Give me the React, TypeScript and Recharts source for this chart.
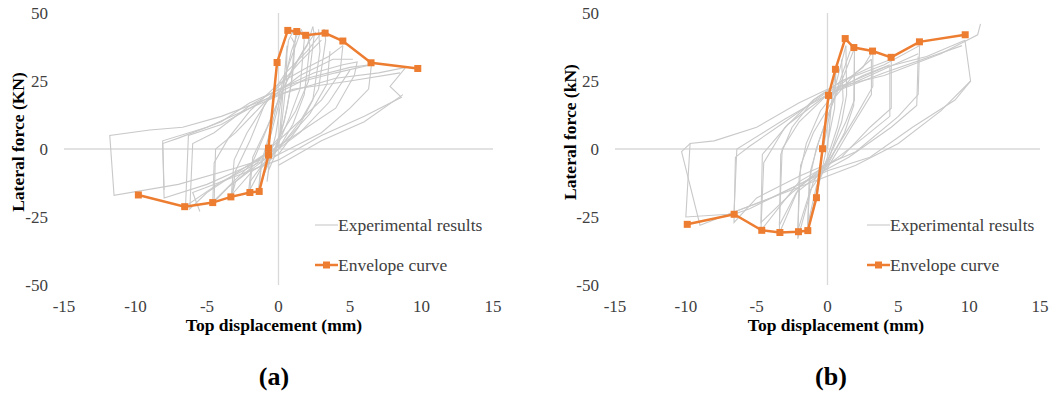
import { ReferenceLine, Scatter, ScatterChart, XAxis, YAxis } from 'recharts';

type Pt = [number, number];

const xTicks = [-15, -10, -5, 0, 5, 10, 15];
const yTicks = [-50, -25, 0, 25, 50];

// envelope (a)
const envelopeA: Pt[] = [
  [-9.8, -16.9], [-6.56, -21.2], [-4.6, -19.7], [-3.33, -17.6], [-2.0, -16.0],
  [-1.35, -15.6], [-0.7, -2.2], [-0.7, 0.3], [-0.1, 31.8], [0.65, 43.6],
  [1.28, 43.2], [1.9, 41.8], [3.26, 42.6], [4.5, 39.7], [6.47, 31.7], [9.74, 29.6],
];

// envelope (b)
const envelopeB: Pt[] = [
  [-9.9, -27.7], [-6.59, -24.0], [-4.64, -29.9], [-3.36, -30.7], [-2.05, -30.4],
  [-1.39, -30.0], [-0.78, -17.9], [-0.35, 0.1], [0.07, 19.7], [0.56, 29.3],
  [1.25, 40.6], [1.86, 37.3], [3.18, 36.0], [4.49, 33.7], [6.49, 39.4], [9.72, 42.0],
];

// hysteresis cycles (a)
const cyclesA: Pt[][] = [
  [[0, 0], [0.3, 20], [0.6, 38], [0.55, 25], [0.2, 8], [-0.3, -3], [-0.7, -8], [-0.8, -12], [-0.6, -3], [-0.2, 5], [0.3, 22], [0.7, 40]],
  [[0.7, 40], [1.0, 43], [1.2, 42], [1.0, 28], [0.6, 15], [0, 2], [-0.8, -6], [-1.3, -14], [-1.4, -15], [-1.2, -5], [-0.5, 8], [0.3, 25], [1.2, 38], [1.6, 44]],
  [[0.9, 41], [1.1, 39], [0.9, 24], [0.4, 10], [-0.4, -2], [-1.0, -9], [-1.35, -15], [-1.2, -6], [-0.6, 4], [0.2, 20], [0.9, 36], [1.3, 42]],
  [[1.6, 44], [1.8, 40], [1.5, 22], [0.8, 12], [0, 2], [-1, -5], [-2, -12], [-2.1, -16], [-1.9, -6], [-1, 5], [0, 18], [1, 30], [2, 38], [2.4, 45]],
  [[2.0, 43], [2.2, 38], [1.8, 20], [1.0, 9], [0, 0], [-1.2, -7], [-2.0, -15], [-1.8, -3], [-0.8, 8], [0.5, 24], [1.7, 36], [2.6, 43]],
  [[2.4, 45], [2.5, 42], [2.1, 25], [1.2, 14], [0, 4], [-1.5, -5], [-3, -12], [-3.3, -18], [-3, -8], [-2, 3], [-1, 16], [0.5, 28], [2, 36], [2.9, 42], [3.2, 44]],
  [[2.8, 44], [2.9, 36], [2.4, 18], [1.4, 8], [0, -2], [-1.8, -8], [-3.3, -17], [-3.1, -4], [-2.2, 6], [-0.5, 20], [1.5, 32], [3.0, 40]],
  [[3.2, 44], [3.3, 40], [2.8, 22], [1.5, 10], [0, 0], [-2, -8], [-3.5, -14], [-4.6, -20], [-4.5, -5], [-3.5, 4], [-2, 14], [0, 24], [2, 30], [3.5, 34], [4.5, 38]],
  [[3.6, 36], [3.4, 24], [2.2, 13], [0.5, 3], [-2, -6], [-4.5, -19], [-4.4, 0], [-3, 6], [-1, 17], [1.5, 27], [3.8, 33], [5.2, 33]],
  [[4.5, 38], [4.3, 28], [3, 18], [1, 8], [-1, -2], [-3, -9], [-5, -16], [-6.2, -22], [-6, 2], [-4.5, 6], [-2, 16], [0, 22], [2.5, 28], [4.5, 31], [5.5, 32], [5.3, 27]],
  [[5.0, 29], [3.5, 17], [1.5, 6], [-1, -4], [-4, -12], [-6.5, -21], [-6.3, 5], [-4, 9], [-1, 18], [2, 26], [5, 30], [6.4, 31]],
  [[5.3, 27], [4, 15], [2, 8], [0, 1], [-2, -6], [-5, -13], [-8, -18], [-8.1, 2], [-7, 4], [-4, 10], [-2, 17], [1, 24], [4, 28], [6.5, 31], [6.3, 22]],
  [[-8, -15], [-8.1, 3], [-5, 8], [-2, 15], [1, 22], [5, 25], [8.5, 28]],
  [[6.3, 22], [5, 15], [3, 6], [0, -2], [-3, -7], [-7, -13], [-11.5, -17], [-11.8, 5], [-9, 7], [-6.7, 8], [-4, 12], [0, 20], [4, 26], [7, 28], [8.9, 30], [7.8, 23], [8.6, 19], [6, 12], [3, 5], [0, -4], [-3, -10], [-6, -16], [-5.5, -23]],
  [[0, -6], [3, 3], [6, 10], [8.7, 20]],
];

// hysteresis cycles (b)
const cyclesB: Pt[][] = [
  [[0, 0], [0.3, 18], [0.6, 30], [0.5, 15], [0, 2], [-0.4, -8], [-0.8, -18], [-0.6, -8], [-0.2, 3], [0.4, 20], [1.0, 32], [1.3, 38]],
  [[1.0, 33], [1.1, 18], [0.7, 8], [0, -3], [-0.8, -14], [-1.4, -28], [-1.2, -8], [-0.6, 3], [0.3, 16], [1.2, 30], [1.6, 36]],
  [[1.3, 38], [1.35, 20], [1.0, 10], [0.2, -2], [-0.6, -12], [-1.4, -30], [-1.3, -12], [-0.8, 0], [0, 12], [1, 25], [1.9, 37]],
  [[1.9, 37], [1.9, 18], [1.3, 10], [0, -4], [-1, -12], [-2.1, -33], [-2.0, -10], [-1.5, 2], [-0.5, 14], [1, 24], [2.5, 30], [3.2, 36]],
  [[1.9, 34], [1.85, 16], [1.2, 6], [0, -6], [-1.2, -15], [-2.1, -30], [-1.9, -6], [-1, 6], [0.5, 19], [2, 28], [3.1, 33]],
  [[3.2, 36], [3.2, 23], [2, 12], [0, -5], [-2, -14], [-3.4, -31], [-3.3, -2], [-2.5, 8], [-1, 18], [1, 25], [3, 30], [4.5, 33]],
  [[3.1, 33], [3.1, 20], [1.8, 9], [0, -7], [-2.2, -16], [-3.4, -28], [-3.2, 0], [-2, 10], [0, 20], [2.5, 27], [4.4, 31]],
  [[4.5, 33], [4.5, 15], [3, 8], [1, -3], [-2, -12], [-4.7, -30], [-4.5, -5], [-3, 8], [-1, 18], [1, 25], [4, 31], [6.5, 38]],
  [[4.4, 30], [4.4, 12], [2.5, 4], [0, -6], [-2.5, -16], [-4.7, -27], [-4.6, -2], [-2.8, 9], [0, 20], [3, 27], [6.4, 35]],
  [[6.5, 38], [6.4, 20], [5, 12], [2, -1], [-2, -10], [-5, -18], [-6.6, -27], [-6.5, -3], [-5.5, 1], [-3, 10], [0, 21], [4, 30], [7, 34], [9.7, 40]],
  [[6.4, 34], [6.3, 16], [4.5, 8], [1.5, -3], [-2, -13], [-5.5, -22], [-6.6, -24], [-6.4, 0], [-3, 11], [0, 20], [4, 28], [9.5, 38]],
  [[9.7, 40], [10.1, 25], [9, 18], [6, 8], [3, -3], [0, -8], [-4, -18], [-7, -24], [-10, -25], [-9.7, 2], [-8, 3], [-5, 8], [-2, 17], [0, 22], [4, 27], [8, 35], [10.6, 42], [10.8, 46]],
  [[10.1, 25], [8, 14], [5, 2], [2, -6], [-2, -14], [-6, -22], [-9, -28], [-10.3, -1], [-9.7, 2]],
];

const ORANGE = '#ED7D31';
const GREY = '#c9c9c9';
const FONT = "'Liberation Serif', 'Times New Roman', Tinos, 'DejaVu Serif', serif";

const toData = (pts: Pt[]) => pts.map(([x, y]) => ({ x, y }));

const NoDot = () => <g />;

const SquareDot = (props: { cx?: number; cy?: number }) => {
  const { cx, cy } = props;
  if (cx == null || cy == null) return <g />;
  return <rect x={cx - 3.5} y={cy - 3.5} width={7} height={7} fill={ORANGE} />;
};

interface PanelProps {
  left: number;
  width: number;
  marginLeft: number;
  marginRight: number;
  cycles: Pt[][];
  envelope: Pt[];
  yTitle: string;
  yTitleX: number;
  yTitleY: number;
  xTitleX: number;
  legendX: number;
  tag: string;
  tagX: number;
}

function Panel(p: PanelProps) {
  const tickStyle = { fill: '#404040', fontSize: 17, fontFamily: FONT };
  return (
    <div style={{ position: 'absolute', left: p.left, top: 0, width: p.width, height: 394 }}>
      <ScatterChart
        width={p.width}
        height={320}
        margin={{ top: 13, right: p.marginRight, left: p.marginLeft, bottom: 5 }}
        style={{ fontFamily: FONT }}
      >
        <XAxis
          type="number"
          dataKey="x"
          domain={[-15, 15]}
          ticks={xTicks}
          axisLine={false}
          tickLine={false}
          tickSize={0}
          tickMargin={15}
          height={30}
          tick={tickStyle}
          allowDataOverflow
        />
        <YAxis
          type="number"
          dataKey="y"
          domain={[-50, 50]}
          ticks={yTicks}
          axisLine={false}
          tickLine={false}
          tickSize={0}
          tickMargin={16}
          width={50}
          tick={tickStyle}
          allowDataOverflow
        />
        <ReferenceLine x={0} stroke="#d9d9d9" strokeWidth={1.3} />
        <ReferenceLine y={0} stroke="#d9d9d9" strokeWidth={1.3} />
        {p.cycles.map((c, i) => (
          <Scatter
            key={i}
            data={toData(c)}
            line={{ stroke: GREY, strokeWidth: 1.1 }}
            lineType="joint"
            shape={NoDot}
            isAnimationActive={false}
          />
        ))}
        <Scatter
          data={toData(p.envelope)}
          line={{ stroke: ORANGE, strokeWidth: 2.5 }}
          lineType="joint"
          shape={SquareDot}
          isAnimationActive={false}
        />
      </ScatterChart>

      {/* axis titles */}
      <div
        style={{
          position: 'absolute',
          left: p.yTitleX,
          top: p.yTitleY,
          transform: 'translate(-50%, -50%) rotate(-90deg)',
          whiteSpace: 'nowrap',
          fontFamily: FONT,
          fontWeight: 'bold',
          fontSize: 17.5,
          color: '#000',
        }}
      >
        {p.yTitle}
      </div>
      <div
        style={{
          position: 'absolute',
          left: p.xTitleX,
          top: 325,
          transform: 'translate(-50%, -50%)',
          whiteSpace: 'nowrap',
          fontFamily: FONT,
          fontWeight: 'bold',
          fontSize: 17.5,
          color: '#000',
        }}
      >
        Top displacement (mm)
      </div>

      {/* legend */}
      <div style={{ position: 'absolute', left: p.legendX, top: 213, fontFamily: FONT, fontSize: 17.5, color: '#404040' }}>
        <div style={{ display: 'flex', alignItems: 'center', height: 24 }}>
          <svg width={23} height={10}>
            <line x1={0} y1={5} x2={23} y2={5} stroke={GREY} strokeWidth={1.1} />
          </svg>
          <span>Experimental results</span>
        </div>
        <div style={{ display: 'flex', alignItems: 'center', height: 24, marginTop: 16 }}>
          <svg width={23} height={10}>
            <line x1={0} y1={5} x2={23} y2={5} stroke={ORANGE} strokeWidth={2.5} />
            <rect x={8} y={1.5} width={7} height={7} fill={ORANGE} />
          </svg>
          <span>Envelope curve</span>
        </div>
      </div>

      <div
        style={{
          position: 'absolute',
          left: p.tagX,
          top: 377,
          transform: 'translate(-50%, -50%)',
          fontFamily: FONT,
          fontWeight: 'bold',
          fontSize: 26,
          color: '#000',
        }}
      >
        {p.tag}
      </div>
    </div>
  );
}

export default function App() {
  return (
    <div style={{ position: 'absolute', left: 0, top: 0, width: 1058, height: 394, background: '#fff' }}>
      <Panel
        left={0}
        width={520}
        marginLeft={14}
        marginRight={27}
        cycles={cyclesA}
        envelope={envelopeA}
        yTitle="Lateral force (KN)"
        yTitleX={18}
        yTitleY={142}
        xTitleX={274}
        legendX={315}
        tag="(a)"
        tagX={274}
      />
      <Panel
        left={530}
        width={528}
        marginLeft={35}
        marginRight={18}
        cycles={cyclesB}
        envelope={envelopeB}
        yTitle="Lateral force (kN)"
        yTitleX={40}
        yTitleY={132}
        xTitleX={306}
        legendX={337}
        tag="(b)"
        tagX={301}
      />
    </div>
  );
}
